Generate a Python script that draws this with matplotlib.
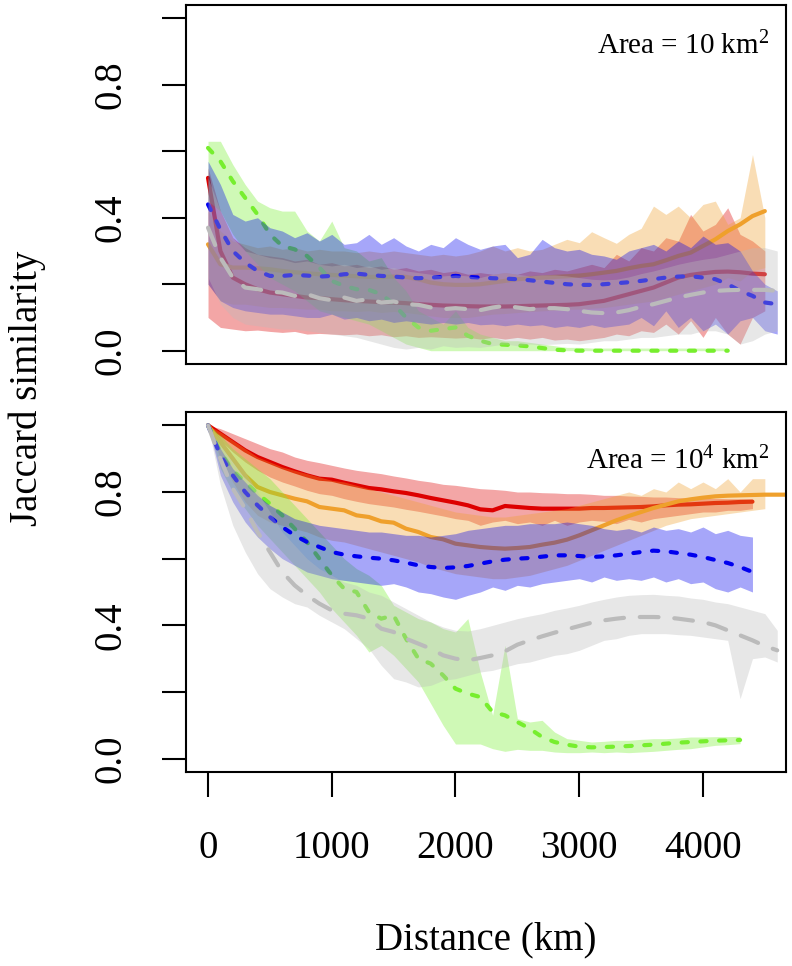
import matplotlib
matplotlib.use("Agg")
import matplotlib.pyplot as plt

plt.rcParams['font.family'] = ['Liberation Serif', 'DejaVu Serif']
plt.rcParams['mathtext.fontset'] = 'custom'
plt.rcParams['mathtext.rm'] = 'Liberation Serif'
plt.rcParams['mathtext.it'] = 'Liberation Serif:italic'

# distance grid (km)
dist = [0, 100, 200, 300, 400, 500, 600, 700, 800, 900,
        1000, 1100, 1200, 1300, 1400, 1500, 1600, 1700, 1800, 1900,
        2000, 2100, 2200, 2300, 2400, 2500, 2600, 2700, 2800, 2900,
        3000, 3100, 3200, 3300, 3400, 3500, 3600, 3700, 3800, 3900,
        4000, 4100, 4200, 4300, 4400, 4500, 4600, 4700]

x_ticks = [0, 1000, 2000, 3000, 4000]
x_tick_labels = ["0", "1000", "2000", "3000", "4000"]
y_ticks = [0.0, 0.2, 0.4, 0.6, 0.8, 1.0]
y_tick_labels = ["0.0", "", "0.4", "", "0.8", ""]
panel_labels = [r"Area = 10 km$^2$", r"Area = 10$^4$ km$^2$"]

# ---------------- top panel (Area = 10 km2) ----------------
red_mean_t = [0.52, 0.30, 0.22, 0.20, 0.185, 0.175, 0.17, 0.165, 0.16, 0.158,
              0.155, 0.152, 0.15, 0.148, 0.146, 0.145, 0.143, 0.14, 0.138, 0.136,
              0.135, 0.134, 0.133, 0.133, 0.133, 0.134, 0.135, 0.136, 0.137, 0.138,
              0.14, 0.145, 0.15, 0.16, 0.17, 0.18, 0.19, 0.205, 0.22, 0.228,
              0.233, 0.237, 0.238, 0.236, 0.232, 0.23]
red_lo_t = [0.10, 0.07, 0.065, 0.06, 0.062, 0.058, 0.055, 0.058, 0.05, 0.052,
            0.05, 0.048, 0.05, 0.045, 0.048, 0.042, 0.045, 0.04, 0.042, 0.04,
            0.038, 0.04, 0.035, 0.04, 0.035, 0.04, 0.035, 0.04, 0.032, 0.035,
            0.03, 0.035, 0.04, 0.05, 0.045, 0.06, 0.055, 0.08, 0.05, 0.09,
            0.04, 0.10, 0.05, 0.02, 0.10, 0.12]
red_hi_t = [0.55, 0.42, 0.34, 0.31, 0.29, 0.285, 0.28, 0.27, 0.275, 0.26,
            0.265, 0.255, 0.26, 0.25, 0.255, 0.245, 0.25, 0.24, 0.245, 0.235,
            0.24, 0.23, 0.235, 0.23, 0.235, 0.23, 0.24, 0.235, 0.245, 0.24,
            0.25, 0.26, 0.25, 0.29, 0.27, 0.31, 0.30, 0.34, 0.33, 0.41,
            0.36, 0.38, 0.43, 0.35, 0.33, 0.30]

orange_mean_t = [0.32, 0.26, 0.25, 0.25, 0.248, 0.245, 0.24, 0.236, 0.233, 0.23,
                 0.228, 0.226, 0.224, 0.222, 0.222, 0.223, 0.222, 0.215, 0.205, 0.20,
                 0.198, 0.198, 0.20, 0.205, 0.21, 0.215, 0.218, 0.22, 0.222, 0.224,
                 0.226, 0.23, 0.235, 0.24, 0.248, 0.255, 0.26, 0.272, 0.285, 0.295,
                 0.315, 0.335, 0.36, 0.38, 0.405, 0.42]
orange_lo_t = [0.20, 0.15, 0.14, 0.14, 0.135, 0.13, 0.13, 0.128, 0.125, 0.125,
               0.12, 0.12, 0.118, 0.12, 0.115, 0.118, 0.115, 0.11, 0.105, 0.10,
               0.10, 0.10, 0.105, 0.11, 0.112, 0.115, 0.118, 0.12, 0.122, 0.125,
               0.125, 0.128, 0.13, 0.135, 0.14, 0.145, 0.15, 0.16, 0.17, 0.18,
               0.19, 0.20, 0.22, 0.21, 0.24, 0.25]
orange_hi_t = [0.42, 0.36, 0.33, 0.32, 0.31, 0.315, 0.305, 0.31, 0.30, 0.305,
               0.30, 0.30, 0.295, 0.30, 0.295, 0.30, 0.295, 0.29, 0.285, 0.29,
               0.285, 0.29, 0.30, 0.315, 0.30, 0.31, 0.30, 0.305, 0.32, 0.335,
               0.325, 0.358, 0.34, 0.323, 0.35, 0.368, 0.435, 0.41, 0.435, 0.40,
               0.44, 0.45, 0.38, 0.40, 0.59, 0.40]

green_mean_t = [0.61, 0.57, 0.51, 0.46, 0.41, 0.35, 0.315, 0.305, 0.285, 0.25,
                0.21, 0.195, 0.185, 0.183, 0.17, 0.14, 0.10, 0.07, 0.06, 0.065,
                0.07, 0.045, 0.03, 0.02, 0.018, 0.016, 0.013, 0.008, 0.003, 0.001,
                0.0, 0.0, 0.0, 0.0, 0.0, 0.0, 0.0, 0.0, 0.0, 0.0,
                0.0, 0.0, 0.0]
green_lo_t = [0.45, 0.42, 0.35, 0.30, 0.26, 0.22, 0.20, 0.18, 0.15, 0.12,
              0.11, 0.10, 0.09, 0.08, 0.06, 0.04, 0.02, 0.01, 0.0, 0.0,
              0.0, 0.0, 0.0, 0.0, 0.0, 0.0, 0.0, 0.0, 0.0, 0.0,
              0.0, 0.0, 0.0, 0.0, 0.0, 0.0, 0.0, 0.0, 0.0, 0.0,
              0.0, 0.0, 0.0]
green_hi_t = [0.63, 0.63, 0.56, 0.50, 0.45, 0.43, 0.42, 0.42, 0.36, 0.33,
              0.39, 0.31, 0.30, 0.27, 0.28, 0.22, 0.18, 0.12, 0.10, 0.08,
              0.12, 0.07, 0.05, 0.04, 0.03, 0.03, 0.025, 0.02, 0.015, 0.01,
              0.01, 0.008, 0.008, 0.008, 0.008, 0.008, 0.008, 0.008, 0.008, 0.008,
              0.008, 0.008, 0.008]

blue_mean_t = [0.44, 0.365, 0.30, 0.265, 0.24, 0.225, 0.225, 0.228, 0.226, 0.223,
               0.225, 0.23, 0.232, 0.228, 0.225, 0.223, 0.22, 0.218, 0.22, 0.222,
               0.225, 0.222, 0.22, 0.218, 0.217, 0.215, 0.212, 0.208, 0.204, 0.20,
               0.198, 0.198, 0.20, 0.203, 0.206, 0.21, 0.215, 0.22, 0.223, 0.224,
               0.22, 0.215, 0.20, 0.18, 0.165, 0.145, 0.14]
blue_lo_t = [0.20, 0.15, 0.13, 0.12, 0.115, 0.11, 0.11, 0.105, 0.10, 0.10,
             0.11, 0.095, 0.10, 0.09, 0.095, 0.085, 0.09, 0.085, 0.08, 0.085,
             0.08, 0.085, 0.078, 0.08, 0.075, 0.08, 0.075, 0.078, 0.07, 0.075,
             0.07, 0.078, 0.07, 0.075, 0.08, 0.10, 0.075, 0.12, 0.07, 0.10,
             0.06, 0.08, 0.05, 0.09, 0.10, 0.06, 0.05]
blue_hi_t = [0.57, 0.50, 0.41, 0.39, 0.40, 0.37, 0.36, 0.34, 0.355, 0.33,
             0.35, 0.32, 0.325, 0.35, 0.32, 0.34, 0.315, 0.30, 0.32, 0.31,
             0.34, 0.32, 0.305, 0.315, 0.32, 0.28, 0.29, 0.335, 0.31, 0.30,
             0.305, 0.29, 0.285, 0.275, 0.30, 0.31, 0.32, 0.30, 0.33, 0.31,
             0.345, 0.32, 0.325, 0.30, 0.24, 0.20, 0.18]

grey_mean_t = [0.37, 0.28, 0.22, 0.19, 0.185, 0.178, 0.175, 0.165, 0.17, 0.158,
               0.152, 0.16, 0.15, 0.155, 0.145, 0.148, 0.14, 0.138, 0.13, 0.125,
               0.128, 0.125, 0.122, 0.13, 0.135, 0.13, 0.125, 0.128, 0.128, 0.125,
               0.12, 0.115, 0.113, 0.115, 0.122, 0.132, 0.14, 0.15, 0.16, 0.168,
               0.175, 0.18, 0.182, 0.183, 0.183, 0.183, 0.18]
grey_lo_t = [0.22, 0.14, 0.10, 0.08, 0.075, 0.07, 0.065, 0.065, 0.06, 0.055,
             0.05, 0.045, 0.04, 0.03, 0.02, 0.01, 0.005, 0.01, 0.005, 0.015,
             0.01, 0.012, 0.01, 0.015, 0.02, 0.015, 0.02, 0.018, 0.02, 0.022,
             0.02, 0.025, 0.03, 0.03, 0.035, 0.04, 0.04, 0.045, 0.05, 0.05,
             0.06, 0.06, 0.05, 0.02, 0.03, 0.05, 0.06]
grey_hi_t = [0.52, 0.42, 0.34, 0.30, 0.29, 0.28, 0.275, 0.265, 0.27, 0.26,
             0.255, 0.26, 0.25, 0.255, 0.245, 0.25, 0.24, 0.235, 0.23, 0.225,
             0.228, 0.225, 0.22, 0.23, 0.235, 0.23, 0.225, 0.228, 0.228, 0.225,
             0.22, 0.215, 0.213, 0.215, 0.222, 0.232, 0.24, 0.25, 0.26, 0.268,
             0.275, 0.28, 0.29, 0.30, 0.31, 0.31, 0.30]

# ---------------- bottom panel (Area = 10^4 km2) ----------------
red_mean_b = [1.0, 0.975, 0.95, 0.925, 0.905, 0.89, 0.875, 0.862, 0.85, 0.84,
              0.837, 0.828, 0.82, 0.812, 0.808, 0.802, 0.797, 0.79, 0.782, 0.775,
              0.768, 0.76, 0.748, 0.745, 0.758, 0.755, 0.752, 0.75, 0.75, 0.75,
              0.75, 0.752, 0.752, 0.753, 0.754, 0.755, 0.757, 0.76, 0.762, 0.763,
              0.765, 0.767, 0.768, 0.77, 0.771]
red_lo_b = [1.0, 0.955, 0.92, 0.89, 0.865, 0.845, 0.83, 0.818, 0.805, 0.795,
            0.79, 0.78, 0.772, 0.765, 0.76, 0.755, 0.748, 0.742, 0.735, 0.728,
            0.72, 0.715, 0.70, 0.71, 0.715, 0.705, 0.71, 0.70, 0.715, 0.70,
            0.71, 0.715, 0.712, 0.705, 0.718, 0.71, 0.72, 0.725, 0.73, 0.735,
            0.74, 0.74, 0.745, 0.745, 0.75]
red_hi_b = [1.0, 0.99, 0.975, 0.96, 0.945, 0.93, 0.92, 0.905, 0.895, 0.888,
            0.88, 0.872, 0.865, 0.86, 0.855, 0.848, 0.842, 0.835, 0.83, 0.823,
            0.82, 0.815, 0.81, 0.808, 0.805, 0.80, 0.80, 0.798, 0.797, 0.795,
            0.795, 0.793, 0.79, 0.79, 0.788, 0.787, 0.785, 0.785, 0.783, 0.782,
            0.782, 0.781, 0.78, 0.78, 0.779]

orange_mean_b = [1.0, 0.95, 0.90, 0.85, 0.815, 0.80, 0.79, 0.78, 0.772, 0.755,
                 0.75, 0.745, 0.73, 0.725, 0.712, 0.708, 0.69, 0.68, 0.665, 0.658,
                 0.645, 0.64, 0.635, 0.632, 0.63, 0.632, 0.635, 0.642, 0.648, 0.657,
                 0.67, 0.685, 0.70, 0.715, 0.728, 0.74, 0.752, 0.762, 0.772, 0.778,
                 0.783, 0.787, 0.789, 0.79, 0.791, 0.792, 0.792, 0.792]
orange_lo_b = [1.0, 0.90, 0.83, 0.77, 0.73, 0.71, 0.70, 0.69, 0.68, 0.665,
               0.655, 0.65, 0.64, 0.63, 0.62, 0.61, 0.60, 0.59, 0.575, 0.565,
               0.555, 0.55, 0.545, 0.54, 0.54, 0.545, 0.55, 0.56, 0.57, 0.58,
               0.595, 0.61, 0.625, 0.64, 0.655, 0.67, 0.685, 0.70, 0.71, 0.72,
               0.725, 0.73, 0.735, 0.74, 0.745, 0.75]
orange_hi_b = [1.0, 0.98, 0.955, 0.93, 0.905, 0.89, 0.875, 0.865, 0.855, 0.845,
               0.835, 0.83, 0.82, 0.81, 0.80, 0.79, 0.78, 0.77, 0.76, 0.75,
               0.74, 0.735, 0.73, 0.725, 0.725, 0.73, 0.735, 0.74, 0.745, 0.75,
               0.76, 0.77, 0.78, 0.79, 0.80, 0.79, 0.81, 0.80, 0.83, 0.81,
               0.83, 0.81, 0.84, 0.80, 0.84, 0.84]

green_mean_b = [1.0, 0.92, 0.865, 0.83, 0.795, 0.765, 0.73, 0.69, 0.65, 0.60,
                0.55, 0.51, 0.50, 0.44, 0.42, 0.43, 0.36, 0.30, 0.285, 0.25,
                0.21, 0.195, 0.185, 0.14, 0.13, 0.11, 0.09, 0.065, 0.05, 0.042,
                0.036, 0.034, 0.035, 0.036, 0.038, 0.04, 0.042, 0.045, 0.048, 0.05,
                0.052, 0.054, 0.055, 0.056]
green_lo_b = [1.0, 0.87, 0.80, 0.75, 0.70, 0.66, 0.62, 0.58, 0.54, 0.50,
              0.45, 0.41, 0.37, 0.32, 0.34, 0.31, 0.27, 0.23, 0.165, 0.10,
              0.044, 0.044, 0.044, 0.03, 0.022, 0.028, 0.025, 0.025, 0.02, 0.018,
              0.018, 0.02, 0.018, 0.02, 0.018, 0.02, 0.022, 0.025, 0.028, 0.03,
              0.035, 0.04, 0.042, 0.045]
green_hi_b = [1.0, 0.97, 0.93, 0.90, 0.87, 0.84, 0.80, 0.76, 0.72, 0.68,
              0.64, 0.60, 0.57, 0.55, 0.52, 0.46, 0.44, 0.42, 0.41, 0.39,
              0.38, 0.42, 0.26, 0.13, 0.34, 0.12, 0.11, 0.115, 0.08, 0.06,
              0.055, 0.05, 0.052, 0.055, 0.055, 0.058, 0.06, 0.06, 0.062, 0.065,
              0.065, 0.066, 0.066, 0.067]

blue_mean_b = [1.0, 0.91, 0.85, 0.80, 0.76, 0.725, 0.695, 0.67, 0.65, 0.635,
               0.62, 0.612, 0.607, 0.603, 0.60, 0.595, 0.588, 0.58, 0.575, 0.572,
               0.574, 0.578, 0.585, 0.592, 0.597, 0.60, 0.602, 0.606, 0.61, 0.61,
               0.608, 0.605, 0.607, 0.61, 0.615, 0.62, 0.624, 0.622, 0.617, 0.612,
               0.605, 0.596, 0.587, 0.575, 0.56]
blue_lo_b = [1.0, 0.85, 0.77, 0.71, 0.665, 0.63, 0.60, 0.58, 0.56, 0.55,
             0.54, 0.535, 0.53, 0.525, 0.52, 0.525, 0.515, 0.50, 0.495, 0.485,
             0.478, 0.49, 0.50, 0.515, 0.505, 0.52, 0.515, 0.525, 0.53, 0.535,
             0.54, 0.53, 0.545, 0.535, 0.54, 0.535, 0.545, 0.53, 0.54, 0.525,
             0.53, 0.51, 0.50, 0.515, 0.50]
blue_hi_b = [1.0, 0.93, 0.87, 0.83, 0.79, 0.76, 0.74, 0.72, 0.71, 0.70,
             0.695, 0.69, 0.685, 0.68, 0.68, 0.675, 0.67, 0.67, 0.665, 0.67,
             0.675, 0.685, 0.69, 0.695, 0.70, 0.70, 0.705, 0.705, 0.705, 0.71,
             0.705, 0.70, 0.69, 0.685, 0.69, 0.68, 0.695, 0.685, 0.69, 0.68,
             0.695, 0.675, 0.685, 0.67, 0.665]

grey_mean_b = [1.0, 0.90, 0.81, 0.75, 0.68, 0.62, 0.56, 0.52, 0.49, 0.465,
               0.445, 0.435, 0.43, 0.42, 0.39, 0.38, 0.36, 0.345, 0.33, 0.31,
               0.30, 0.295, 0.302, 0.31, 0.322, 0.342, 0.355, 0.367, 0.378, 0.388,
               0.398, 0.408, 0.415, 0.42, 0.424, 0.425, 0.425, 0.424, 0.42, 0.415,
               0.41, 0.40, 0.385, 0.37, 0.355, 0.338, 0.325]
grey_lo_b = [1.0, 0.82, 0.70, 0.62, 0.555, 0.51, 0.485, 0.465, 0.455, 0.43,
             0.41, 0.39, 0.36, 0.33, 0.28, 0.24, 0.23, 0.215, 0.22, 0.235,
             0.24, 0.25, 0.26, 0.265, 0.275, 0.285, 0.29, 0.30, 0.31, 0.315,
             0.325, 0.34, 0.355, 0.36, 0.37, 0.375, 0.375, 0.375, 0.372, 0.37,
             0.365, 0.36, 0.355, 0.18, 0.30, 0.305, 0.29]
grey_hi_b = [1.0, 0.96, 0.91, 0.86, 0.80, 0.74, 0.68, 0.64, 0.60, 0.57,
             0.55, 0.53, 0.52, 0.50, 0.49, 0.47, 0.45, 0.43, 0.41, 0.395,
             0.385, 0.383, 0.39, 0.40, 0.41, 0.42, 0.428, 0.435, 0.445, 0.452,
             0.46, 0.47, 0.478, 0.485, 0.49, 0.492, 0.493, 0.49, 0.488, 0.482,
             0.478, 0.47, 0.465, 0.455, 0.445, 0.435, 0.385]

# ---------------- styles ----------------
RED = "#dd0000"
ORANGE = "#efa02c"
GREEN = "#77ee2e"
BLUE = "#0000ee"
GREY = "#bbbbbb"
LW = 3.0
solid = dict(linestyle="-", solid_capstyle="round", solid_joinstyle="round")
dotted = dict(linestyle=(0, (1.5, 3.0)), dash_capstyle="round")
longdash = dict(linestyle=(0, (4.5, 3.8)), dash_capstyle="round")

panels = [
    [(RED, red_mean_t, red_lo_t, red_hi_t, solid),
     (ORANGE, orange_mean_t, orange_lo_t, orange_hi_t, solid),
     (GREEN, green_mean_t, green_lo_t, green_hi_t, dotted),
     (BLUE, blue_mean_t, blue_lo_t, blue_hi_t, dotted),
     (GREY, grey_mean_t, grey_lo_t, grey_hi_t, longdash)],
    [(RED, red_mean_b, red_lo_b, red_hi_b, solid),
     (ORANGE, orange_mean_b, orange_lo_b, orange_hi_b, solid),
     (GREEN, green_mean_b, green_lo_b, green_hi_b, dotted),
     (BLUE, blue_mean_b, blue_lo_b, blue_hi_b, dotted),
     (GREY, grey_mean_b, grey_lo_b, grey_hi_b, longdash)],
]

W, H = 792, 966
fig = plt.figure(figsize=(W / 100, H / 100), dpi=100)
ax_top = fig.add_axes([186 / W, 1 - 364 / H, 600 / W, 359 / H])
ax_bot = fig.add_axes([186 / W, 1 - 772 / H, 600 / W, 360 / H])
axes = [ax_top, ax_bot]
label_y = [0.887, 0.865]

for k, ax in enumerate(axes):
    for i, (color, mean, lo, hi, style) in enumerate(panels[k]):
        ax.fill_between(dist[:len(lo)], lo, hi, color=color, alpha=0.35,
                        linewidth=0, zorder=2 * i + 1)
        ax.plot(dist[:len(mean)], mean, color=color, lw=LW, zorder=2 * i + 2,
                **style)
    ax.set_xlim(-178, 4671)
    ax.set_ylim(-0.04, 1.04)
    for sp in ax.spines.values():
        sp.set_linewidth(1.5)
        sp.set_zorder(20)
    ax.set_yticks(y_ticks)
    ax.set_yticklabels(y_tick_labels, rotation=90, va="center")
    ax.tick_params(axis="y", length=17, width=1.5, pad=24, labelsize=28)
    ax.text(0.972, label_y[k], panel_labels[k], transform=ax.transAxes,
            ha="right", va="center", fontsize=21, zorder=30)

ax_top.set_xticks([])
ax_bot.set_xticks(x_ticks)
ax_bot.set_xticklabels(x_tick_labels)
ax_bot.tick_params(axis="x", length=18, width=1.5, pad=24, labelsize=28)

fig.text(27 / W, 1 - 388 / H, "Jaccard similarity", rotation=90,
         ha="center", va="center", fontsize=28)
fig.text(486 / W, 1 - 940 / H, "Distance (km)", ha="center", va="center",
         fontsize=28)

fig.savefig("out.png", dpi=100)
